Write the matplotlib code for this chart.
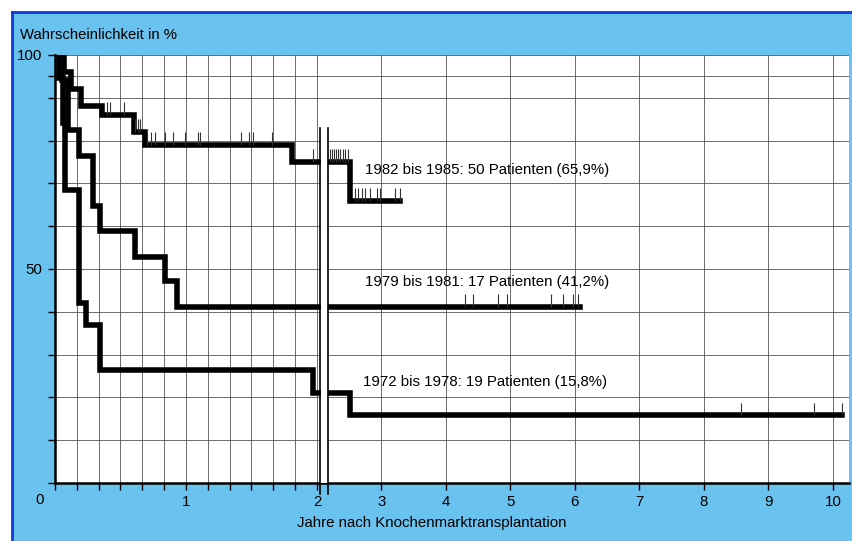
import numpy as np
import matplotlib
matplotlib.use('Agg')
import matplotlib.pyplot as plt
from matplotlib.patches import Rectangle

plt.rcParams['font.family'] = ['Liberation Sans', 'DejaVu Sans']
font = 10.8

# Kaplan-Meier steps (years, percent)
t_82 = [0, 0.07, 0.12, 0.20, 0.36, 0.60, 0.69, 1.81, 2.51]
s_82 = [100, 96, 92, 88, 86, 82, 79, 75, 65.9]
end_82 = 3.29
cens_82 = [0.40, 0.42, 0.53, 0.61, 0.63, 0.65, 0.70, 0.73, 0.76, 0.84, 0.90,
           0.99, 1.09, 1.11, 1.42, 1.48, 1.51, 1.66, 1.97, 2.20, 2.23, 2.26,
           2.29, 2.32, 2.36, 2.40, 2.44, 2.48, 2.59, 2.64, 2.70, 2.74, 2.82,
           2.93, 2.98, 3.21, 3.29]

t_79 = [0, 0.05, 0.10, 0.18, 0.29, 0.34, 0.61, 0.84, 0.93]
s_79 = [100, 94.1, 82.4, 76.5, 64.7, 58.8, 52.9, 47.1, 41.2]
end_79 = 6.08
cens_79 = [4.29, 4.42, 4.81, 4.95, 5.63, 5.81, 5.97, 6.05]

t_72 = [0, 0.03, 0.06, 0.08, 0.18, 0.24, 0.34, 1.97, 2.51]
s_72 = [100, 94.7, 84.2, 68.4, 42.1, 36.8, 26.3, 21.1, 15.8]
end_72 = 10.14
cens_72 = [8.57, 9.71, 10.14]

labels = ['1982 bis 1985: 50 Patienten (65,9%)',
          '1979 bis 1981: 17 Patienten (41,2%)',
          '1972 bis 1978: 19 Patienten (15,8%)']
label_pos = [(2.74, 73.1), (2.74, 47.0), (2.72, 23.6)]

# broken time axis: 0-2 years stretched, 2-10 years compressed
r = 64.5 / 131


def fwd(x):
    x = np.asarray(x, dtype=float)
    return np.where(x <= 2, x, 2 + (x - 2) * r)


def inv(u):
    u = np.asarray(u, dtype=float)
    return np.where(u <= 2, u, 2 + (u - 2) / r)


W, H = 853, 541
fig = plt.figure(figsize=(W / 100, H / 100), dpi=100)
fig.patch.set_facecolor('white')
bg = Rectangle((12 / W, 0), 1, 1 - 12 / H, transform=fig.transFigure,
               facecolor='#6ac2ee', edgecolor='none', zorder=-10)
fig.add_artist(bg)
fig.add_artist(plt.Line2D([12 / W, 1], [1 - 12 / H, 1 - 12 / H], color='#1437d8', lw=2, zorder=-9))
fig.add_artist(plt.Line2D([12 / W, 12 / W], [0, 1 - 12 / H], color='#1437d8', lw=2, zorder=-9))

ax = fig.add_axes([55 / W, (H - 483) / H, (849 - 55) / W, (483 - 55) / H])
ax.set_zorder(2)
ax.set_facecolor('white')
ax.set_xscale('function', functions=(fwd, inv))
ax.set_xlim(0, 10.25)
ax.set_ylim(0, 100)

xgrid = [i / 6 for i in range(1, 13)] + list(range(3, 11))
ygrid = [10, 20, 30, 40, 50, 60, 70, 80, 90, 95, 100]
for xv in xgrid:
    ax.axvline(xv, color='#555555', lw=0.6, zorder=1)
for yv in ygrid:
    ax.axhline(yv, color='#555555', lw=0.6, zorder=1)

curves = [(t_82, s_82, end_82, cens_82), (t_79, s_79, end_79, cens_79),
          (t_72, s_72, end_72, cens_72)]
for t, s, end, cens in curves:
    ax.step(t + [end], s + [s[-1]], where='post', color='black', lw=4,
            solid_joinstyle='miter', zorder=3)
    base = np.array(s)[np.searchsorted(t, cens, side='right') - 1]
    ax.vlines(cens, base, base + 3, color='#333333', lw=0.8, zorder=3)

# scale break
ax.axvspan(2.07, 2.155, ymin=0, ymax=0.82, color='white', zorder=4)
for xb in (2.05, 2.17):
    ax.plot([xb, xb], [-2.5, 83], color='black', lw=1.2, clip_on=False, zorder=5)

for txt, (xv, yv) in zip(labels, label_pos):
    ax.text(xv, yv, txt, fontsize=font, ha='left', va='center', zorder=6)

ax.set_xticks([0] + xgrid)
ax.set_xticklabels([''] + [str(int(v)) if float(v).is_integer() else '' for v in xgrid])
ax.set_yticks([0] + ygrid)
ax.set_yticklabels(['' if v not in (50, 100) else str(v) for v in [0] + ygrid])
ax.tick_params(direction='out', length=5, width=1, labelsize=font, pad=4)

for side in ('top', 'right'):
    ax.spines[side].set_visible(False)
for side in ('left', 'bottom'):
    ax.spines[side].set_linewidth(1.8)

fig.text(40 / W, 1 - 500 / H, '0', fontsize=font, ha='center', va='center')
fig.text(20 / W, 1 - 35 / H, 'Wahrscheinlichkeit in %', fontsize=10.7, ha='left', va='center')
fig.text(432 / W, 1 - 523 / H, 'Jahre nach Knochenmarktransplantation', fontsize=font,
         ha='center', va='center')

fig.savefig('out.png', dpi=100, facecolor=fig.get_facecolor())
